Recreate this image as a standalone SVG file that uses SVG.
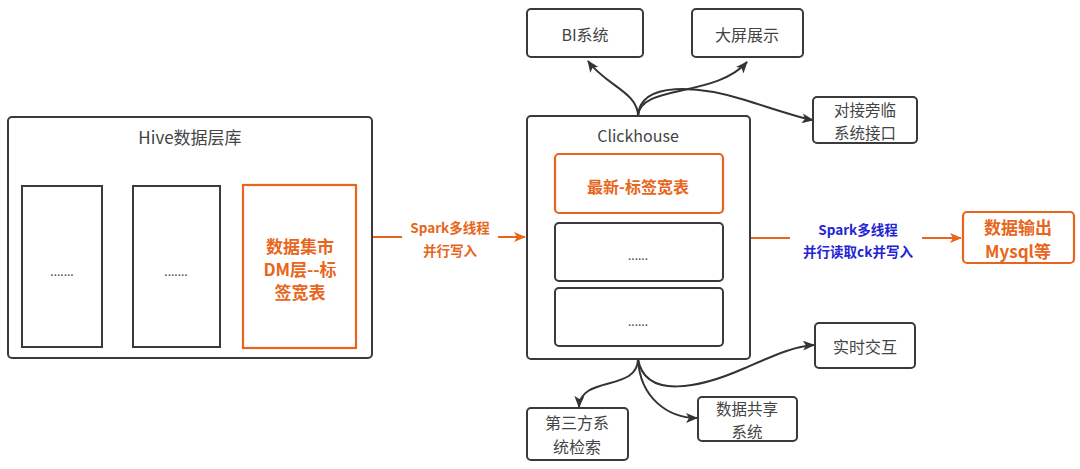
<svg xmlns="http://www.w3.org/2000/svg" width="1080" height="469" viewBox="0 0 1080 469">
<defs>
<style>
.box{fill:#fff;stroke:#3a3a3a;stroke-width:2}
.obox{fill:#fff;stroke:#e8661c;stroke-width:2.2}
.t{font-family:"Noto Sans CJK SC","Noto Sans",sans-serif;fill:#444;text-anchor:middle;dominant-baseline:central}
.ot{font-family:"Noto Sans CJK SC","Noto Sans",sans-serif;fill:#e8661c;font-weight:bold;text-anchor:middle;dominant-baseline:central}
.bt{font-family:"Noto Sans CJK SC","Noto Sans",sans-serif;fill:#2424d4;font-weight:bold;text-anchor:middle;dominant-baseline:central}
.c{fill:none;stroke:#333;stroke-width:2}
.oc{fill:none;stroke:#e8661c;stroke-width:2}
</style>
<marker id="ah" markerWidth="12" markerHeight="10" refX="11" refY="5" orient="auto" markerUnits="userSpaceOnUse">
<path d="M0,0 L12,5 L0,10 L3,5 z" fill="#333"/>
</marker>
<marker id="oah" markerWidth="12" markerHeight="10" refX="11" refY="5" orient="auto" markerUnits="userSpaceOnUse">
<path d="M0,0 L12,5 L0,10 L3,5 z" fill="#e8661c"/>
</marker>
</defs>
<rect width="1080" height="469" fill="#fff"/>

<g id="connectors">
<path class="oc" d="M372,237 L402,237" />
<path class="oc" d="M498,237 L525,237" marker-end="url(#oah)"/>
<path class="oc" d="M750,238 L790,238"/>
<path class="oc" d="M922,238 L961,238" marker-end="url(#oah)"/>
<path class="c" d="M638,116 C638,92 605,85 588,61" marker-end="url(#ah)"/>
<path class="c" d="M638,116 C640,84 715,98 747,62" marker-end="url(#ah)"/>
<path class="c" d="M638,116 C640,80 700,86 745,100 C780,111 800,118 813,120" marker-end="url(#ah)"/>
<path class="c" d="M638,359 C638,392 580,375 579,407" marker-end="url(#ah)"/>
<path class="c" d="M638,359 C640,398 668,418 697,418" marker-end="url(#ah)"/>
<path class="c" d="M638,359 C645,400 700,388 745,368 C775,355 795,346 814,345" marker-end="url(#ah)"/>
</g>

<g id="hive">
<rect class="box" x="8" y="117" width="364" height="241" rx="4"/>
<text class="t" x="190" y="136" font-size="17">Hive数据层库</text>
</g>
<g id="hive-box1">
<rect class="box" x="22" y="186" width="80" height="161"/>
<text class="t" x="62" y="270" font-size="12">.......</text>
</g>
<g id="hive-box2">
<rect class="box" x="133" y="186" width="87" height="161"/>
<text class="t" x="176" y="270" font-size="12">.......</text>
</g>
<g id="dm">
<rect class="obox" x="243" y="185" width="113" height="163"/>
<text class="ot" x="300" y="245" font-size="17">数据集市</text>
<text class="ot" x="300" y="268" font-size="17">DM层--标</text>
<text class="ot" x="300" y="291" font-size="17">签宽表</text>
</g>

<g id="label-spark1">
<text class="ot" x="450" y="227" font-size="13.5">Spark多线程</text>
<text class="ot" x="450" y="250" font-size="13.5">并行写入</text>
</g>

<g id="clickhouse">
<rect class="box" x="527" y="116" width="223" height="243" rx="4"/>
<text class="t" x="638" y="135" font-size="16">Clickhouse</text>
</g>
<g id="latest">
<rect class="obox" x="555" y="154" width="168" height="59" rx="4"/>
<text class="ot" x="638" y="186" font-size="16">最新-标签宽表</text>
</g>
<g id="ck-box2">
<rect class="box" x="555" y="223" width="168" height="58" rx="4"/>
<text class="t" x="638" y="254" font-size="12">......</text>
</g>
<g id="ck-box3">
<rect class="box" x="555" y="288" width="168" height="58" rx="4"/>
<text class="t" x="638" y="320" font-size="12">......</text>
</g>

<g id="label-spark2">
<text class="bt" x="858" y="229" font-size="13.5">Spark多线程</text>
<text class="bt" x="858" y="251" font-size="13.5">并行读取ck并写入</text>
</g>

<g id="mysql">
<rect class="obox" x="963" y="212" width="111" height="51" rx="4"/>
<text class="ot" x="1018" y="226" font-size="17">数据输出</text>
<text class="ot" x="1018" y="250" font-size="17">Mysql等</text>
</g>

<g id="bi">
<rect class="box" x="527" y="9" width="116" height="48" rx="4"/>
<text class="t" x="585" y="34" font-size="16">BI系统</text>
</g>
<g id="screen">
<rect class="box" x="692" y="9" width="111" height="48" rx="4"/>
<text class="t" x="747" y="34" font-size="16">大屏展示</text>
</g>
<g id="interface">
<rect class="box" x="813" y="97" width="104" height="46" rx="4"/>
<text class="t" x="865" y="109" font-size="15.5">对接旁临</text>
<text class="t" x="865" y="132" font-size="15.5">系统接口</text>
</g>
<g id="realtime">
<rect class="box" x="815" y="323" width="100" height="45" rx="4"/>
<text class="t" x="865" y="346" font-size="16">实时交互</text>
</g>
<g id="share">
<rect class="box" x="698" y="397" width="99" height="44" rx="4"/>
<text class="t" x="747" y="408" font-size="15.5">数据共享</text>
<text class="t" x="747" y="431" font-size="15.5">系统</text>
</g>
<g id="third">
<rect class="box" x="527" y="408" width="101" height="52" rx="4"/>
<text class="t" x="577" y="422" font-size="16">第三方系</text>
<text class="t" x="577" y="446" font-size="16">统检索</text>
</g>
</svg>
